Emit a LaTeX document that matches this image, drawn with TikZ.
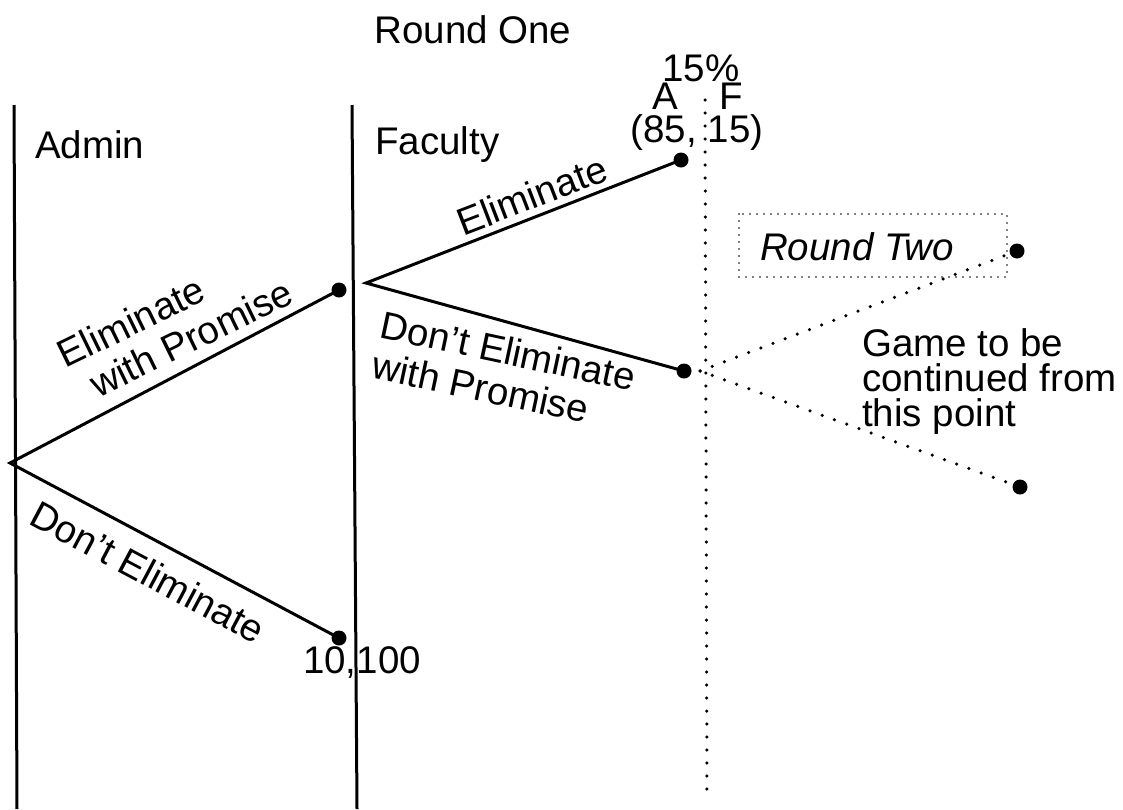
\documentclass[tikz,border=0pt]{standalone}
\usepackage{fontspec}
\setmainfont{Liberation Sans}
\begin{document}
\begin{tikzpicture}[x=1pt,y=-1pt,
  txt/.style={font=\fontsize{38.5}{35}\selectfont, inner sep=0pt},
  slanted/.style={font=\fontsize{38.5}{41}\selectfont, inner sep=0pt, align=left},
  branch/.style={line width=3pt},
  lifeline/.style={line width=3pt},
  dot/.style={circle, fill=black, inner sep=0pt, minimum size=15pt},
  dotline/.style={line width=3.5pt, line cap=round, dash pattern=on 0pt off 13pt},
  boxline/.style={line width=1.6pt, line cap=round, dash pattern=on 0pt off 7pt}]
\useasboundingbox (0,0) rectangle (1123,809);

% player lifelines
\coordinate (adminTop) at (14,105);
\coordinate (adminBot) at (17,809);
\coordinate (facTop) at (352,105);
\coordinate (facBot) at (357,809);
\coordinate (r1Top) at (705,100);
\coordinate (r1Bot) at (707,800);
\draw[lifeline] (adminTop) -- (adminBot);
\draw[lifeline] (facTop) -- (facBot);
\draw[dotline] (r1Top) -- (r1Bot);

% decision points and outcomes
\coordinate (root) at (10,463);
\node[dot] (ewp) at (339,290) {};
\node[dot] (de) at (339,638) {};
\coordinate (fac) at (366,283);
\node[dot] (el) at (681,160) {};
\node[dot] (dewp) at (684,371) {};
\coordinate (cont) at (700,371);
\node[dot] (upper) at (1017,251) {};
\node[dot] (lower) at (1020,487) {};

% branches
\draw[branch] (ewp.center) -- (root) -- (de.center);
\draw[branch] (el.center) -- (fac) -- (dewp.center);
\draw[dotline] (cont) -- (upper);
\draw[dotline] (cont) -- (lower);

% branch labels
\node[slanted, rotate=26] (lblEwp) at (175,323) {Eliminate\\\hspace{16pt}with Promise};
\node[slanted, rotate=-28] (lblDe) at (148,572) {Don’t Eliminate};
\node[slanted, rotate=21] (lblEl) at (532,195) {Eliminate};
\node[slanted, rotate=-12] (lblDewp) at (504,371) {Don’t Eliminate\\with Promise};

% headings and payoffs
\node[txt] (round1) at (473,30) {Round One};
\node[txt, anchor=west] (admin) at (35,145) {Admin};
\node[txt, anchor=west] (faculty) at (375,145) {Faculty};
\node[txt] (pct) at (701,68) {15\%};
\node[txt] (pA) at (665,96) {A};
\node[txt] (pF) at (731,96) {F};
\node[txt] (pay1) at (697,133) {(85, 15)};
\node[txt] (pay2) at (362,663) {10,100};

% round two box and note
\node[txt, font=\fontsize{38.5}{35}\selectfont\itshape] (round2) at (857,247) {Round Two};
\draw[boxline] (739,214) rectangle (1007,277);
\node[txt, anchor=west, align=left] (note) at (862,382) {Game to be\\continued from\\this point};
\end{tikzpicture}
\end{document}
